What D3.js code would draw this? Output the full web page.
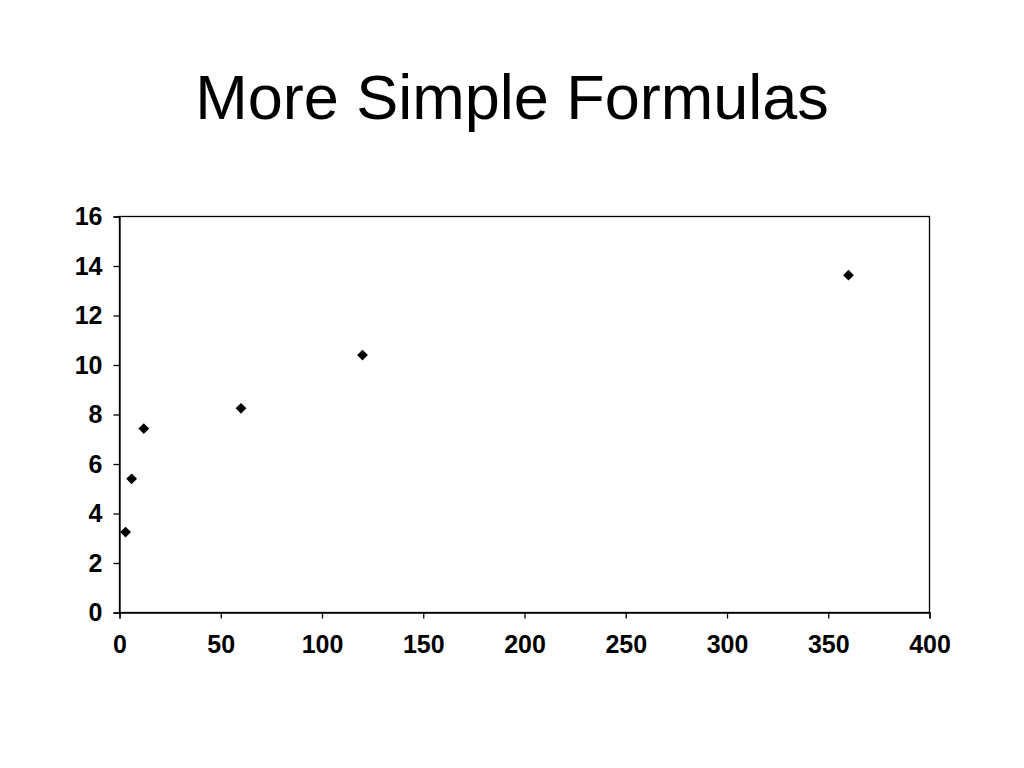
<!DOCTYPE html>
<html><head><meta charset="utf-8">
<script src="https://cdn.jsdelivr.net/npm/d3@7"></script>
<style>body{margin:0;background:#fff;} text{font-family:"Liberation Sans",Arial,sans-serif;}</style>
</head><body>
<svg id="c" width="1024" height="768"></svg>
<script>
const title = "More Simple Formulas";
const xValues = [3, 6, 12, 60, 120, 360];
const yValues = [3.25, 5.4, 7.43, 8.25, 10.4, 13.63];
const xTicks = [0, 50, 100, 150, 200, 250, 300, 350, 400];
const yTicks = [0, 2, 4, 6, 8, 10, 12, 14, 16];

const svg = d3.select("#c");
const L = 119.5, R = 929.5, T = 216.5, B = 612.5;
const x = d3.scaleLinear().domain([0, 400]).range([L, R]);
const y = d3.scaleLinear().domain([0, 16]).range([B, T]);

svg.append("text").attr("x", 512).attr("y", 119).attr("text-anchor", "middle")
  .attr("font-size", 63).attr("fill", "#000").text(title);

svg.append("rect").attr("x", L).attr("y", T).attr("width", R - L).attr("height", B - T)
  .attr("fill", "none").attr("stroke", "#000").attr("stroke-width", 1.3);

const xAxis = svg.append("g").attr("transform", `translate(0,${B})`)
  .call(d3.axisBottom(x).tickValues(xTicks).tickSize(6).tickPadding(17).tickFormat(d3.format("d")));
const yAxis = svg.append("g").attr("transform", `translate(${L},0)`)
  .call(d3.axisLeft(y).tickValues(yTicks).tickSize(6).tickPadding(11).tickFormat(d3.format("d")));
[xAxis, yAxis].forEach(g => {
  g.select(".domain").attr("stroke", "#000").attr("stroke-width", 1.3);
  g.selectAll(".tick line").attr("stroke", "#000").attr("stroke-width", 1.3);
  g.selectAll(".tick text").attr("font-size", 25).attr("font-weight", "bold")
    .attr("fill", "#000").attr("font-family", "'Liberation Sans',Arial,sans-serif");
});

const pts = xValues.map((v, i) => ({x: v, y: yValues[i]}));
svg.append("g").selectAll("path").data(pts).join("path")
  .attr("d", d3.symbol(d3.symbolSquare, 58)())
  .attr("transform", d => `translate(${x(d.x)},${y(d.y)}) rotate(45)`)
  .attr("fill", "#000");
</script>
</body></html>
